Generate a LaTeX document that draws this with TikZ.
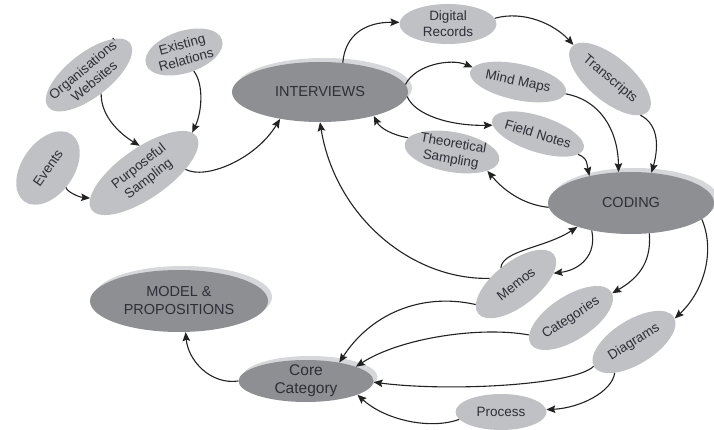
\documentclass[tikz,border=0pt]{standalone}
\usepackage{fontspec}
\setmainfont{Liberation Sans}
\usetikzlibrary{shapes.geometric,arrows.meta,shadows}
\definecolor{lightnode}{HTML}{C0C1C4}
\definecolor{darknode}{HTML}{8E8F93}
\definecolor{shadownode}{HTML}{D6D7DA}
\definecolor{txtcol}{HTML}{2E2E38}
\definecolor{arrcol}{HTML}{222222}
\begin{document}
\begin{tikzpicture}[x=1pt,y=-1pt,
  lightell/.style={ellipse, fill=lightnode, draw=none, inner sep=0pt},
  darkell/.style={ellipse, fill=darknode, draw=none, inner sep=0pt,
    drop shadow={shadow xshift=4pt,shadow yshift=4pt,fill=shadownode,opacity=1}},
  smalltxt/.style={text=txtcol, font=\fontsize{13.5}{16}\selectfont, align=center, inner sep=0pt},
  bigtxt/.style={text=txtcol, font=\fontsize{14.5}{18}\selectfont, align=center, inner sep=0pt},
  conn/.style={draw=arrcol, line width=1.1pt, -{Stealth[length=9pt,width=7.5pt,inset=1.5pt]}}
]
\useasboundingbox (0,0) rectangle (714,430);

% light nodes
\node[lightell, minimum width=104pt, minimum height=44pt, rotate=38] (ow) at (89,75) {};
\node[smalltxt, rotate=40] (owt) at (ow) {Organisations'\\Websites};
\node[lightell, minimum width=80pt, minimum height=42pt, rotate=18] (er) at (184,52) {};
\node[smalltxt, rotate=15] (ert) at (er) {Existing\\Relations};
\node[lightell, minimum width=82pt, minimum height=52pt, rotate=55] (ev) at (48,168) {};
\node[smalltxt, rotate=55] (evt) at (ev) {Events};
\node[lightell, minimum width=128pt, minimum height=50pt, rotate=35] (ps) at (144,173) {};
\node[smalltxt, rotate=38] (pst) at (ps) {Purposeful\\Sampling};
\node[lightell, minimum width=97pt, minimum height=40pt] (dr) at (448,24) {};
\node[smalltxt] (drt) at (dr) {Digital\\Records};
\node[lightell, minimum width=100pt, minimum height=44pt, rotate=-40] (tr) at (610,79) {};
\node[smalltxt, rotate=-40] (trt) at (tr) {Transcripts};
\node[lightell, minimum width=98pt, minimum height=36pt, rotate=-12] (mm) at (518,82) {};
\node[smalltxt, rotate=-12] (mmt) at (mm) {Mind Maps};
\node[lightell, minimum width=96pt, minimum height=36pt, rotate=-18] (fn) at (538,134) {};
\node[smalltxt, rotate=-17] (fnt) at (fn) {Field Notes};
\node[lightell, minimum width=96pt, minimum height=40pt, rotate=-10] (ts) at (452,152) {};
\node[smalltxt, rotate=-10] (tst) at (ts) {Theoretical\\Sampling};
\node[lightell, minimum width=96pt, minimum height=44pt, rotate=38] (me) at (516,284) {};
\node[smalltxt, rotate=38] (met) at (me) {Memos};
\node[lightell, minimum width=96pt, minimum height=44pt, rotate=33] (ca) at (571,318) {};
\node[smalltxt, rotate=33] (cat) at (ca) {Categories};
\node[lightell, minimum width=94pt, minimum height=44pt, rotate=32] (dg) at (634,342) {};
\node[smalltxt, rotate=32] (dgt) at (dg) {Diagrams};
\node[lightell, minimum width=91pt, minimum height=36pt] (pr) at (501,412) {};
\node[smalltxt] (prt) at (pr) {Process};

% dark nodes
\node[darkell, minimum width=176pt, minimum height=60pt] (iv) at (320,92) {};
\node[bigtxt] (ivt) at (iv) {INTERVIEWS};
\node[darkell, minimum width=166pt, minimum height=62pt] (cd) at (631,203) {};
\node[bigtxt] (cdt) at (cd) {CODING};
\node[darkell, minimum width=135pt, minimum height=42pt] (cc) at (306,381) {};
\node[bigtxt, font=\fontsize{15.5}{18}\selectfont] (cct) at (cc) {Core\\Category};
\node[darkell, minimum width=178pt, minimum height=62pt] (mp) at (179,301) {};
\node[bigtxt] (mpt) at (mp) {MODEL \&\\PROPOSITIONS};

% connectors
\draw[conn] (ow.-95) .. controls (101,118) and (122,135) .. (ps.64);
\draw[conn] (er.-81) .. controls (204,84) and (202,112) .. (ps.5);
\draw[conn] (ev.-102) .. controls (66,191) and (78,197) .. (ps.170);
\draw[conn] (ps.-30) .. controls (205,180) and (255,160) .. (iv.-146);
\draw[conn] (iv.52) .. controls (345,35) and (365,22) .. (dr.178);
\draw[conn] (iv.5) .. controls (415,65) and (450,58) .. (mm.174);
\draw[conn] (iv.-3) .. controls (415,115) and (450,126) .. (fn.187);
\draw[conn] (ts.172) .. controls (392,135) and (380,128) .. (iv.-24);
\draw[conn] (dr.7) .. controls (525,10) and (555,25) .. (tr.177);
\draw[conn] (mm.-2) .. controls (600,100) and (618,130) .. (cd.112);
\draw[conn] (tr.-10) .. controls (660,125) and (658,150) .. (cd.56);
\draw[conn] (fn.-9) .. controls (588,158) and (587,165) .. (cd.147);
\draw[conn] (cd.183) .. controls (525,205) and (505,192) .. (ts.-18);
\draw[conn] (me.130) .. controls (410,280) and (335,215) .. (iv.-90);
\draw[conn] (me.95) .. controls (503,250) and (545,248) .. (cd.-156);
\draw[conn] (cd.-145) .. controls (597,255) and (580,270) .. (me.-22);
\draw[conn] (cd.-59) .. controls (652,265) and (635,280) .. (ca.-2);
\draw[conn] (cd.-13) .. controls (715,250) and (705,290) .. (dg.-2);
\draw[conn] (me.169) .. controls (420,292) and (370,315) .. (cc.29);
\draw[conn] (ca.169) .. controls (480,326) and (400,338) .. (cc.16);
\draw[conn] (dg.179) .. controls (575,385) and (450,392) .. (cc.-1);
\draw[conn] (dg.-154) .. controls (612,392) and (580,408) .. (pr.3);
\draw[conn] (pr.-170) .. controls (430,430) and (385,420) .. (cc.-15);
\draw[conn] (cc.180) .. controls (210,385) and (188,360) .. (mp.-78);
\end{tikzpicture}
\end{document}
